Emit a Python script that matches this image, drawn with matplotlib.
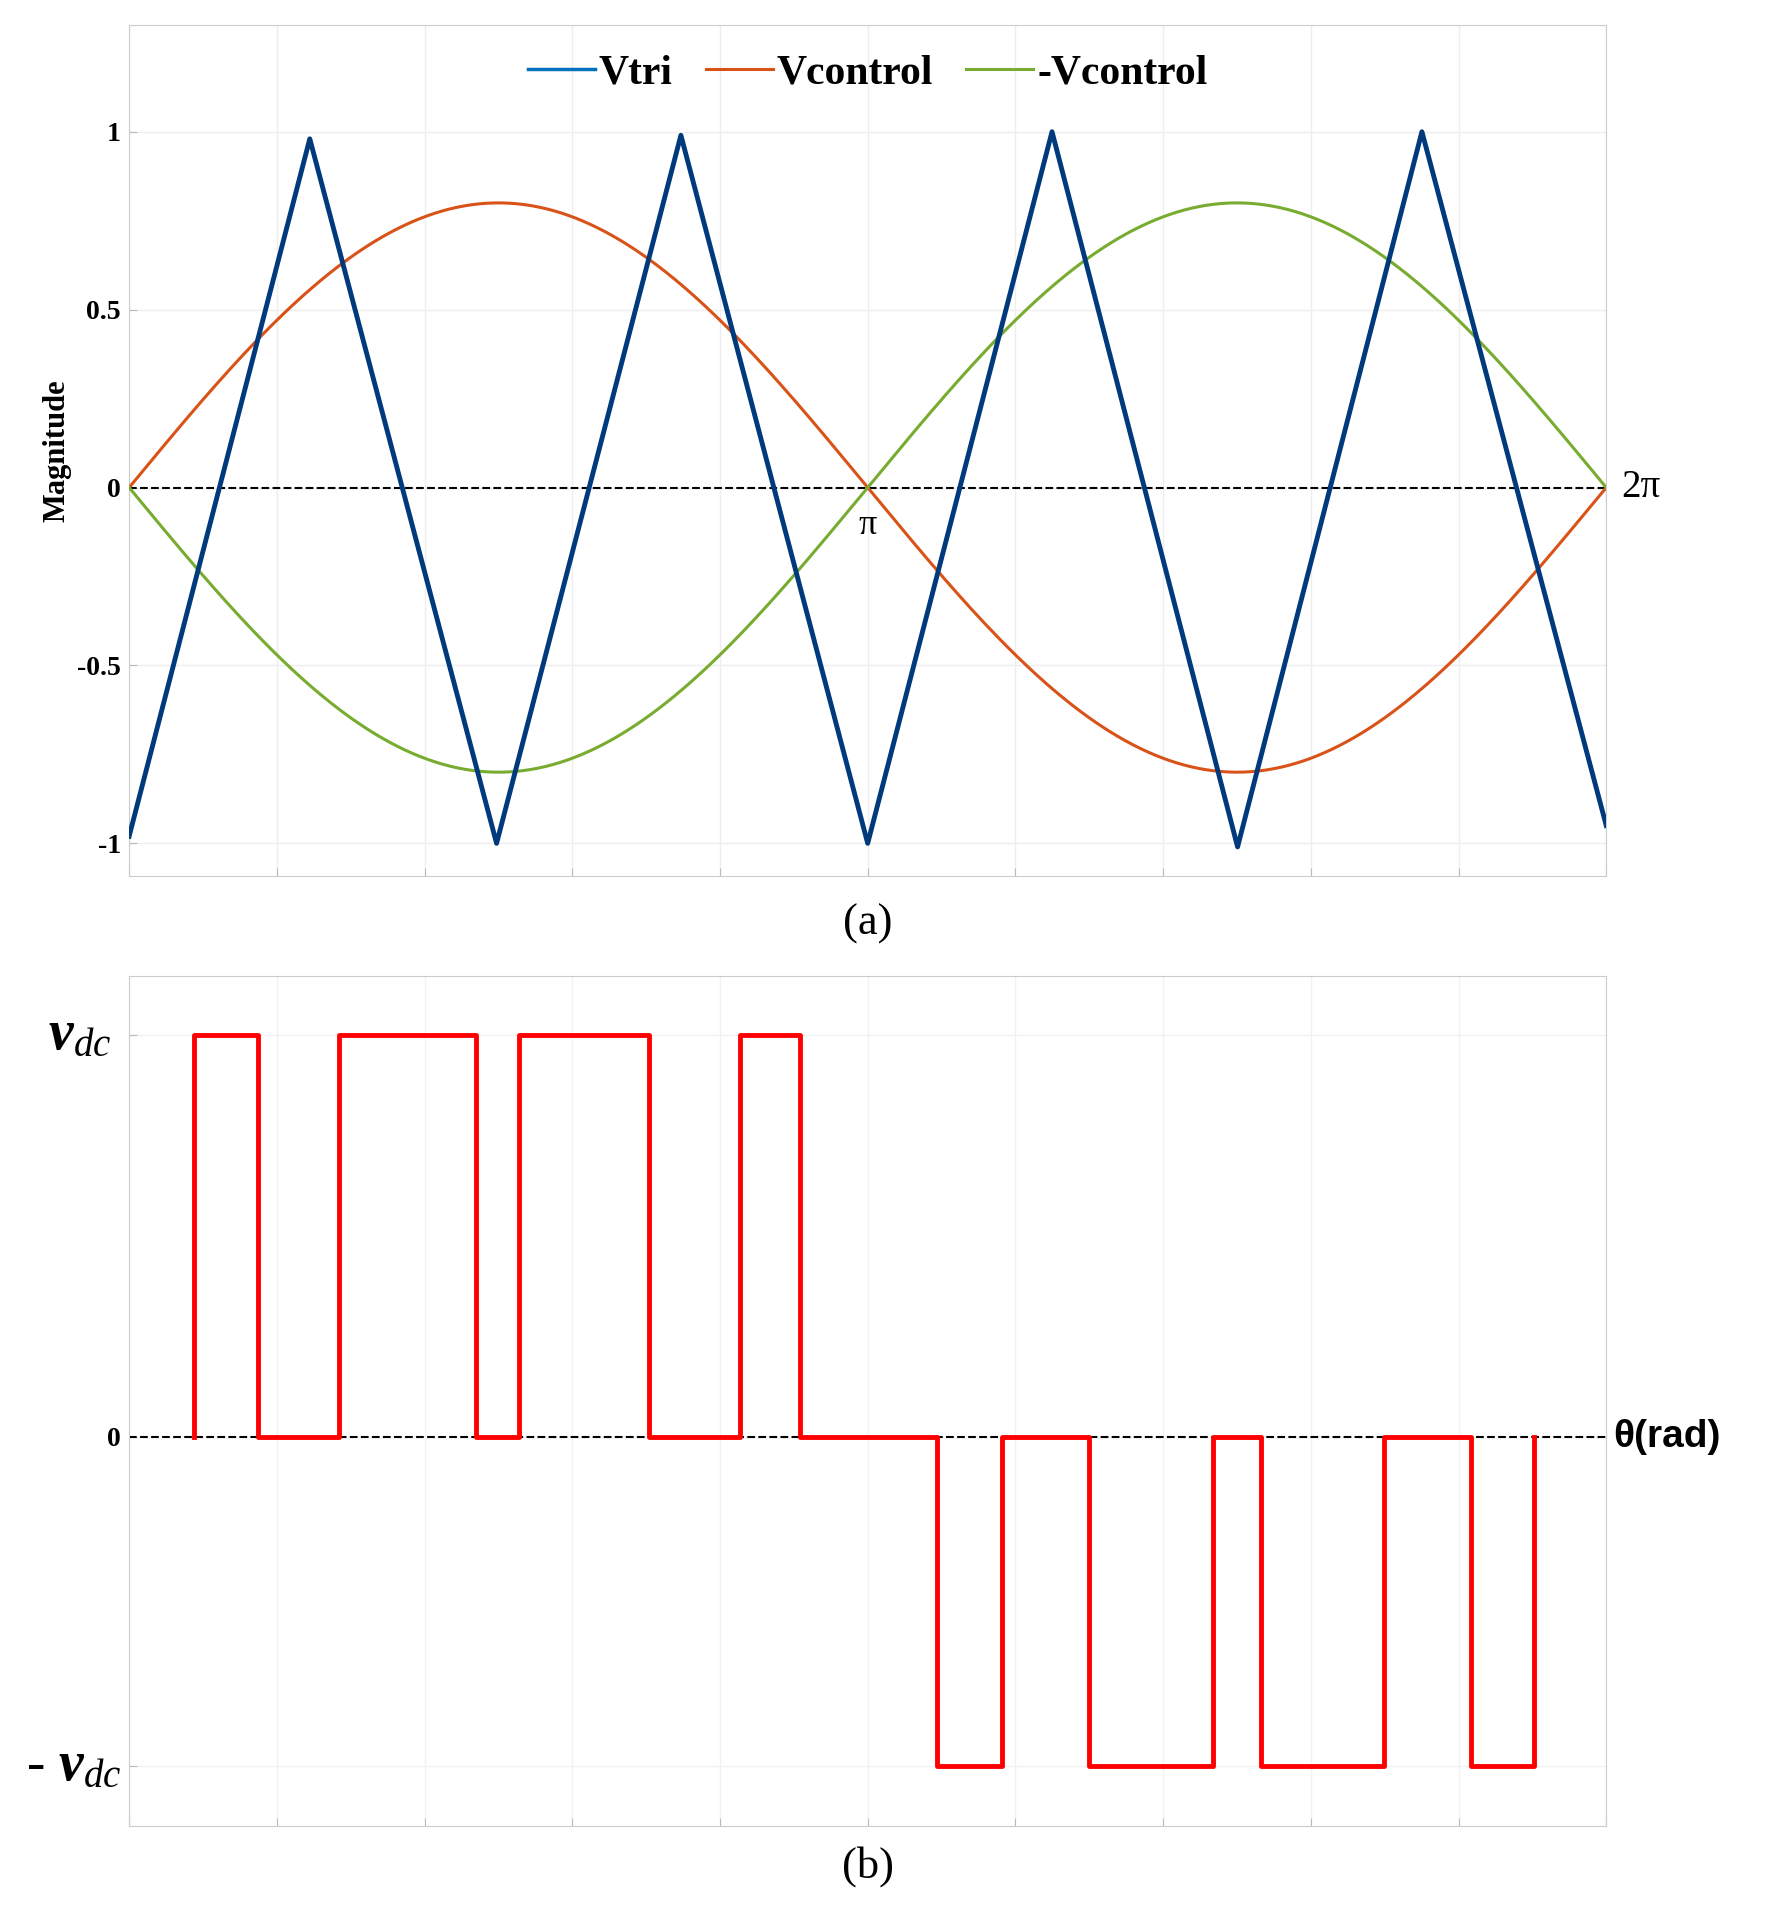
import numpy as np
import matplotlib
matplotlib.use("Agg")
import matplotlib.pyplot as plt

plt.rcParams['font.family'] = ['Liberation Serif', 'DejaVu Serif']
plt.rcParams['mathtext.fontset'] = 'custom'
plt.rcParams['mathtext.it'] = 'Liberation Serif:italic'
plt.rcParams['mathtext.bf'] = 'Liberation Serif:bold:italic'
plt.rcParams['mathtext.rm'] = 'Liberation Serif'

W = 1202.0  # pixel width of axes in the reference, used to read positions
# triangle carrier vertices (fraction of 2*pi, value)
tri_x = np.array([0, 147, 299, 449, 601, 751, 902, 1052, 1202]) / W * 2 * np.pi
tri_y = [-0.98, 0.98, -1.0, 0.99, -1.0, 1.0, -1.01, 1.0, -0.95]
m_a = 0.8

# PWM output switching edges and the level after each edge
pwm_edges = np.array([53, 105, 171, 282, 317, 423, 497, 546, 657, 710,
                      781, 882, 921, 1021, 1092, 1143]) / W * 2 * np.pi
pwm_levels = [1, 0, 1, 0, 1, 0, 1, 0, -0.82, 0, -0.82, 0, -0.82, 0, -0.82, 0]

fig = plt.figure(figsize=(17.69, 19.22), dpi=100)
ax1 = fig.add_axes([0.073, 0.544, 0.835, 0.443])
ax2 = fig.add_axes([0.073, 0.050, 0.835, 0.442])

th = np.linspace(0, 2 * np.pi, 600)
ax1.plot(th, m_a * np.sin(th), color='#D95319', lw=2.2, label='Vcontrol', zorder=3)
ax1.plot(th, -m_a * np.sin(th), color='#77AC30', lw=2.2, label='-Vcontrol', zorder=3)
ax1.plot(tri_x, tri_y, color='#003A7D', lw=3.5, zorder=4)
ax1.plot([], [], color='#0072BD', lw=2.5, label='Vtri')
ax1.axhline(0, color='k', ls='--', lw=1.5, zorder=2)
h, l = ax1.get_legend_handles_labels()
ax1.legend([h[2], h[0], h[1]], [l[2], l[0], l[1]], loc='upper center', ncol=3,
           frameon=False, fontsize=30, handlelength=1.6, handletextpad=0.1,
           columnspacing=0.8, borderaxespad=0.3, prop={'weight': 'bold', 'size': 30})
ax1.set_xlim(0, 2 * np.pi)
ax1.set_ylim(-1.093, 1.30)
ax1.set_yticks([-1, -0.5, 0, 0.5, 1])
ax1.set_yticklabels(['-1', '-0.5', '0', '0.5', '1'], fontweight='bold', fontsize=20)
ax1.set_xticks(np.linspace(0, 2 * np.pi, 11))
ax1.set_xticklabels([])
ax1.set_ylabel('Magnitude', fontweight='bold', fontsize=22)
ax1.grid(color='#eeeeee', lw=1)
ax1.text(np.pi, -0.06, 'π', ha='center', va='top', fontsize=26)
ax1.text(2 * np.pi * 1.01, 0, '2π', ha='left', va='center', fontsize=28, clip_on=False)
ax1.text(np.pi, -1.17, '(a)', ha='center', va='top', fontsize=32, clip_on=False)

for a in (ax1, ax2):
    for s in a.spines.values():
        s.set_color('#cccccc')
    a.tick_params(direction='in', length=6, color='#bbbbbb', pad=6)

# build the pulse train: vertical edge then flat level
px, py = [], []
prev = 0
for e, lv in zip(pwm_edges, pwm_levels):
    px += [e, e]
    py += [prev, lv]
    prev = lv
ax2.plot(px, py, color='#FF0000', lw=3.5, zorder=3)
ax2.axhline(0, color='k', ls='--', lw=1.5, zorder=2)
ax2.set_xlim(0, 2 * np.pi)
ax2.set_ylim(-0.969, 1.147)
ax2.set_xticks(np.linspace(0, 2 * np.pi, 11))
ax2.set_xticklabels([])
ax2.set_yticks([-0.82, 0, 1])
ax2.set_yticklabels(['', '0', ''], fontweight='bold', fontsize=20)
ax2.text(-0.012, 1, r'$\mathbf{v}_{dc}$', transform=ax2.get_yaxis_transform(),
         ha='right', va='center', fontsize=40, clip_on=False)
ax2.text(-0.005, -0.82, r'- $\mathbf{v}_{dc}$', transform=ax2.get_yaxis_transform(),
         ha='right', va='center', fontsize=40, clip_on=False)
ax2.grid(color='#f2f2f2', lw=1)
ax2.text(2 * np.pi * 1.005, 0, 'θ(rad)', ha='left', va='center', fontsize=28,
         fontweight='bold', family=['Liberation Sans', 'DejaVu Sans'], clip_on=False)
ax2.text(np.pi, -1.02, '(b)', ha='center', va='top', fontsize=32, clip_on=False)

fig.savefig('out.png', dpi=100, facecolor='white')
